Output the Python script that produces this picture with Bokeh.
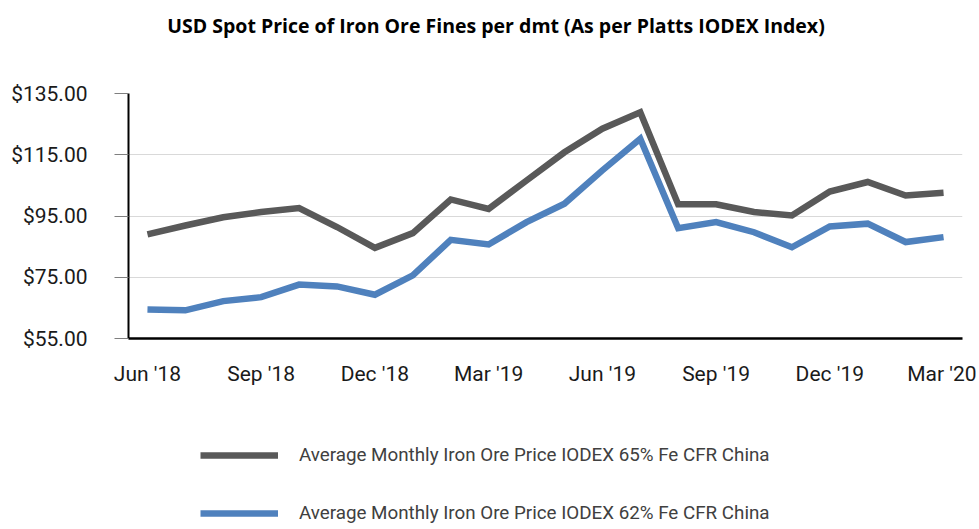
from bokeh.plotting import figure
from bokeh.layouts import column
from bokeh.models import (ColumnDataSource, FixedTicker, NumeralTickFormatter,
                          Legend, LegendItem, Label, Range1d)
from bokeh.embed import file_html
from bokeh.resources import INLINE

months = ["Jun '18", "Jul '18", "Aug '18", "Sep '18", "Oct '18", "Nov '18", "Dec '18",
          "Jan '19", "Feb '19", "Mar '19", "Apr '19", "May '19", "Jun '19", "Jul '19",
          "Aug '19", "Sep '19", "Oct '19", "Nov '19", "Dec '19", "Jan '20", "Feb '20", "Mar '20"]
fe65 = [89.0, 91.9, 94.6, 96.3, 97.6, 91.4, 84.6, 89.4, 100.4, 97.3, 106.6,
        115.8, 123.5, 128.9, 98.8, 98.8, 96.3, 95.2, 103.0, 106.1, 101.7, 102.6]
fe62 = [64.5, 64.2, 67.2, 68.5, 72.6, 72.0, 69.3, 75.6, 87.2, 85.7, 93.0,
        99.0, 109.9, 120.2, 91.0, 93.0, 89.7, 84.8, 91.6, 92.5, 86.5, 88.1]
tick_labels = ["Jun '18", "Sep '18", "Dec '18", "Mar '19", "Jun '19", "Sep '19", "Dec '19", "Mar '20"]
y_ticks = [55, 75, 95, 115, 135]

title_text = "USD Spot Price of Iron Ore Fines per dmt (As per Platts IODEX Index)"
label65 = "Average Monthly Iron Ore Price IODEX 65% Fe CFR China"
label62 = "Average Monthly Iron Ore Price IODEX 62% Fe CFR China"

x = list(range(len(months)))
src = ColumnDataSource(dict(x=x, fe65=fe65, fe62=fe62, month=months))

FONT = "Roboto"
W = 976
LEFT = 128
C65 = "#595959"
C62 = "#4f81bd"
LW = 6.5

# ---- header with the title (frames of the column are aligned at LEFT) ----
p0 = figure(width=W, height=73, output_backend="svg", toolbar_location=None,
            x_range=Range1d(0, 1), y_range=Range1d(0, 1), min_border=0)
p0.axis.visible = False
p0.grid.visible = False
p0.outline_line_color = None
p0.add_layout(Label(x=367.5, y=48, x_units="screen", y_units="screen", text=title_text,
                    text_align="center", text_baseline="middle",
                    text_font="Open Sans", text_font_size="19.5px", text_font_style="bold",
                    text_color="#000000"))

# ---- main chart ----
p = figure(width=W, height=325, output_backend="svg", toolbar_location=None,
           x_range=Range1d(-0.5, len(months) - 0.5), y_range=Range1d(55, 135),
           min_border_left=LEFT, min_border_right=14, min_border_top=20, min_border_bottom=60)

p.line("x", "fe65", source=src, line_color=C65, line_width=LW, line_join="miter")
p.line("x", "fe62", source=src, line_color=C62, line_width=LW, line_join="miter")

p.outline_line_color = None
p.xgrid.grid_line_color = None
p.ygrid.grid_line_color = "#d9d9d9"
p.ygrid.grid_line_width = 1

tick_idx = [months.index(t) for t in tick_labels]
p.xaxis.ticker = FixedTicker(ticks=tick_idx)
p.xaxis.major_label_overrides = {i: months[i] for i in tick_idx}
p.xaxis.axis_line_color = "#000000"
p.xaxis.axis_line_width = 2.5
p.xaxis.major_tick_line_color = None
p.xaxis.minor_tick_line_color = None
p.xaxis.major_label_standoff = 17
p.xaxis.major_label_text_font = FONT
p.xaxis.major_label_text_font_size = "21px"
p.xaxis.major_label_text_color = "#1a1a1a"

p.yaxis.ticker = FixedTicker(ticks=y_ticks)
p.yaxis.formatter = NumeralTickFormatter(format="$0.00")
p.yaxis.axis_line_color = "#000000"
p.yaxis.axis_line_width = 2
p.yaxis.major_tick_line_color = "#7f7f7f"
p.yaxis.major_tick_out = 14
p.yaxis.major_tick_in = 0
p.yaxis.minor_tick_line_color = None
p.yaxis.major_label_standoff = 27
p.yaxis.major_label_text_font = FONT
p.yaxis.major_label_text_font_size = "21px"
p.yaxis.major_label_text_color = "#1a1a1a"

# ---- legend strip ----
p2 = figure(width=W, height=129, output_backend="svg", toolbar_location=None,
            x_range=Range1d(0, 1), y_range=Range1d(0, 1), min_border=0)
p2.axis.visible = False
p2.grid.visible = False
p2.outline_line_color = None
# legend proxies: same data, outside this strip's visible range
l65 = p2.line("x", "fe65", source=src, line_color=C65, line_width=LW)
l62 = p2.line("x", "fe62", source=src, line_color=C62, line_width=LW)
legend = Legend(items=[LegendItem(label=label65, renderers=[l65]),
                       LegendItem(label=label62, renderers=[l62])],
                orientation="vertical", location=(72, 3),
                glyph_width=78, glyph_height=22, label_height=22, label_standoff=21, spacing=36,
                label_text_font=FONT, label_text_font_size="18.8px", label_text_color="#404040",
                border_line_color=None, background_fill_alpha=0, padding=0, margin=0)
p2.add_layout(legend, "center")

layout = column(p0, p, p2, spacing=0)
open("out.html", "w").write(file_html(layout, INLINE))
